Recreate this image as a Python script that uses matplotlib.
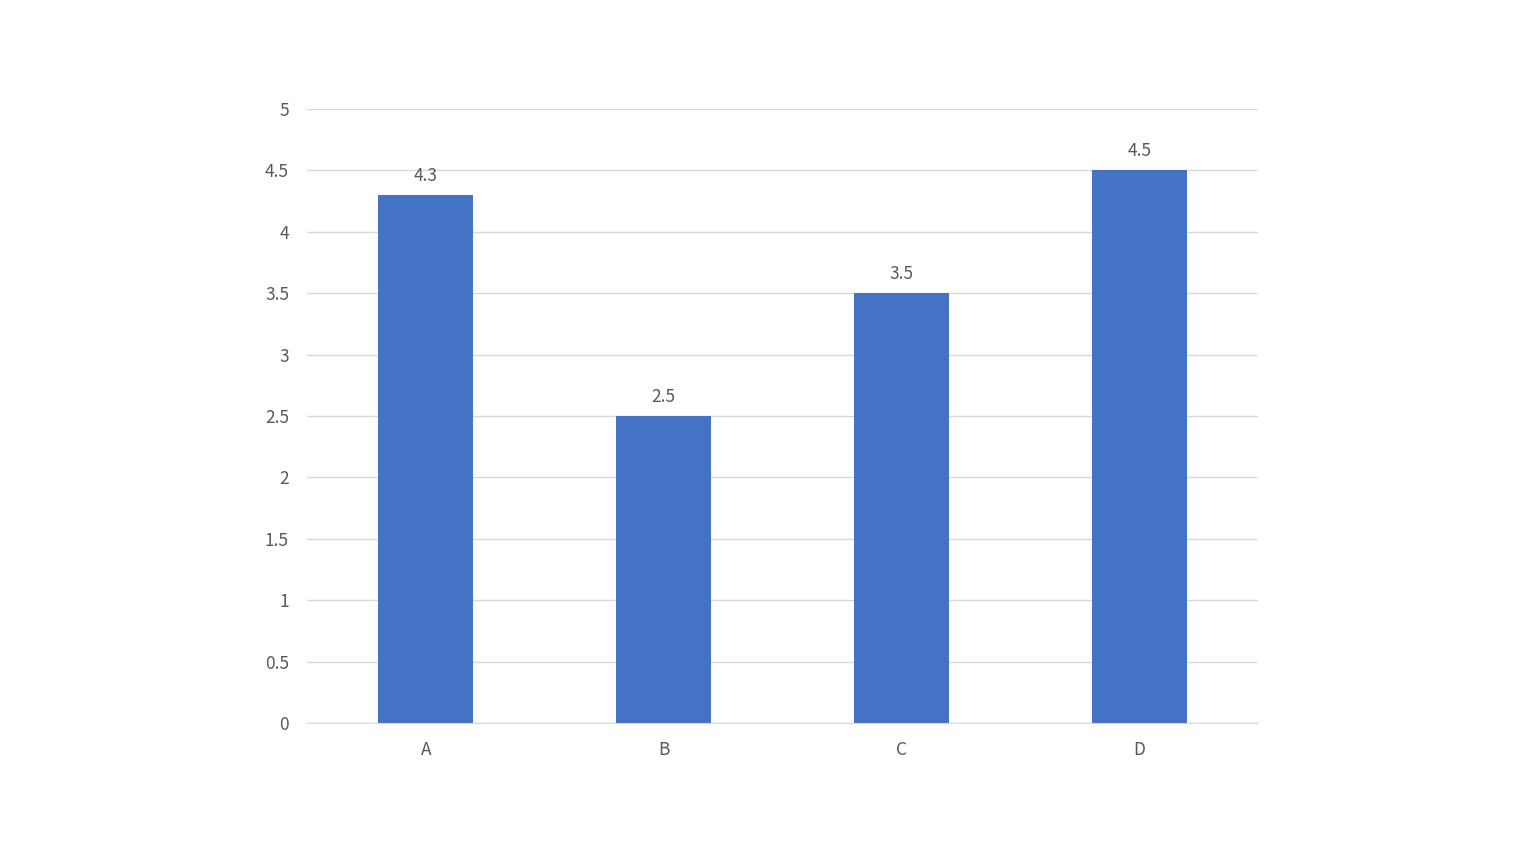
import matplotlib.pyplot as plt

plt.rcParams['font.family'] = ['Noto Sans CJK JP', 'DejaVu Sans']

categories = ['A', 'B', 'C', 'D']
values = [4.3, 2.5, 3.5, 4.5]
yticks = [0, 0.5, 1, 1.5, 2, 2.5, 3, 3.5, 4, 4.5, 5]
ytick_labels = ['0', '0.5', '1', '1.5', '2', '2.5', '3', '3.5', '4', '4.5', '5']

txt = '#595959'

fig = plt.figure(figsize=(15.29, 8.57), dpi=100)
ax = fig.add_axes([0.2008, 0.1564, 0.622, 0.7164])

x = range(len(categories))
bars = ax.bar(x, values, width=0.4, color='#4472C4', zorder=3)
for b, v in zip(bars, values):
    ax.annotate(f'{v:g}', (b.get_x() + b.get_width() / 2, v), xytext=(0, 7.5),
                textcoords='offset points', ha='center', va='bottom',
                fontsize=12.5, color=txt)

ax.set_xlim(-0.5, 3.5)
ax.set_ylim(0, 5)
ax.set_xticks(list(x))
ax.set_xticklabels(categories)
ax.set_yticks(yticks)
ax.set_yticklabels(ytick_labels)
ax.tick_params(axis='both', length=0, labelsize=12.5, labelcolor=txt)
ax.tick_params(axis='y', pad=13)
ax.tick_params(axis='x', pad=13)

ax.grid(axis='y', color='#D9D9D9', linewidth=1, zorder=0)
for s in ['top', 'right', 'left']:
    ax.spines[s].set_visible(False)
ax.spines['bottom'].set_color('#D9D9D9')
ax.spines['bottom'].set_zorder(4)

fig.savefig('out.png', dpi=100)
